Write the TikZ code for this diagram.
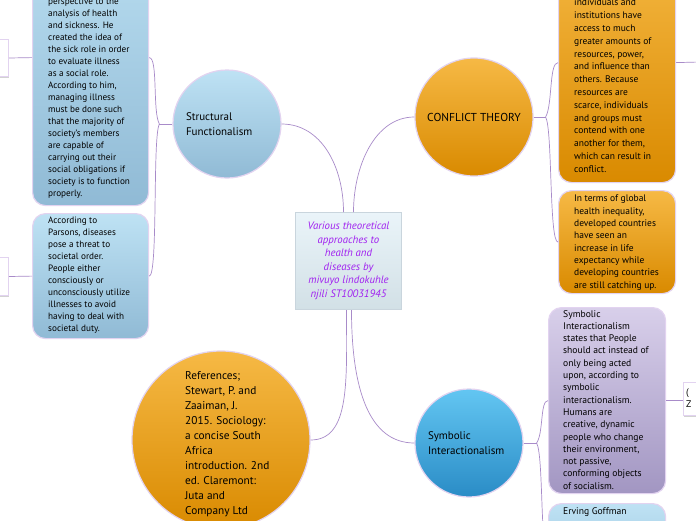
\documentclass[tikz,border=0pt]{standalone}
\usepackage{fontspec}
\setmainfont{PT Sans}
\usepackage{tikz}
\usetikzlibrary{positioning,shadows}
\definecolor{rlav}{HTML}{E2D3F0}
\definecolor{rlink}{HTML}{A88BC9}
\definecolor{bluetop}{HTML}{BEE2F4}
\definecolor{bluebot}{HTML}{90BAD5}
\definecolor{orangetop}{HTML}{F6B945}
\definecolor{orangebot}{HTML}{D98A00}
\definecolor{skytop}{HTML}{63C6F2}
\definecolor{skybot}{HTML}{2A8CC6}
\definecolor{lilactop}{HTML}{D8CFEA}
\definecolor{lilacbot}{HTML}{A296C2}
\definecolor{titletop}{HTML}{EAF4F9}
\definecolor{titlebot}{HTML}{D2E0E6}
\definecolor{titleline}{HTML}{C9D5DD}
\definecolor{titletext}{HTML}{A020F0}

\begin{document}
\begin{tikzpicture}[x=1pt,y=-1pt,
  every node/.style={font=\fontsize{9.2}{12}\selectfont},
  topic/.style={circle,draw=rlav,line width=1.2pt,inner sep=0pt,align=left},
  leaf/.style={draw=rlav,line width=1.2pt,rounded corners=13pt,inner sep=0pt,anchor=north west},
  stub/.style={draw=rlav,fill=white,line width=1pt,inner sep=0pt,anchor=north west,
    drop shadow={shadow xshift=0pt,shadow yshift=-1.5pt,opacity=0.35}},
  txt/.style={align=left,anchor=north west,inner sep=0pt},
  link/.style={draw=rlink,line width=0.7pt}]
  \fill[white] (0,0) rectangle (696,520);
  \useasboundingbox (0,0) rectangle (696,520);

  % centre
  \node[draw=titleline,line width=1pt,top color=titletop,bottom color=titlebot,
    minimum width=106pt,minimum height=97pt,inner sep=0pt,align=center,text=titletext,
    font=\fontsize{10.8}{13.5}\selectfont\itshape] (title) at (348.5,261)
    {Various theoretical\\approaches to\\health and\\diseases by\\mivuyo lindokuhle\\njili ST10031945};

  % structural functionalism
  \node[topic,top color=bluetop,bottom color=bluebot,minimum size=108pt,text width=82pt,
    font=\fontsize{11}{14.5}\selectfont] (sfc) at (227,124) {Structural\\Functionalism};
  \node[leaf,top color=bluetop,bottom color=bluebot,minimum width=116pt,minimum height=296pt] (sfone) at (32,-91) {};
  \node[txt] (sfonetext) at (48,-2) {perspective to the\\analysis of health\\and sickness. He\\created the idea of\\the sick role in order\\to evaluate illness\\as a social role.\\According to him,\\managing illness\\must be done such\\that the majority of\\society's members\\are capable of\\carrying out their\\social obligations if\\society is to function\\properly.};
  \node[leaf,top color=bluetop,bottom color=bluebot,minimum width=116pt,minimum height=125pt] (sftwo) at (32,213) {};
  \node[txt] (sftwotext) at (48,217) {According to\\Parsons, diseases\\pose a threat to\\societal order.\\People either\\consciously or\\unconsciously utilize\\illnesses to avoid\\having to deal with\\societal duty.};
  \node[stub,minimum width=40pt,minimum height=37pt] (sfstubone) at (-32,39) {};
  \node[stub,minimum width=40pt,minimum height=38pt] (sfstubtwo) at (-32,257) {};

  % conflict theory
  \node[topic,top color=orangetop,bottom color=orangebot,minimum size=118pt,align=center,
    font=\fontsize{11.5}{14}\selectfont] (ct) at (474,117) {CONFLICT THEORY};
  \node[leaf,top color=orangetop,bottom color=orangebot,minimum width=117pt,minimum height=240pt] (cfone) at (558,-58) {};
  \node[txt,font=\fontsize{9.5}{12.8}\selectfont] (cfonetext) at (574,-1) {individuals and\\institutions have\\access to much\\greater amounts of\\resources, power,\\and influence than\\others. Because\\resources are\\scarce, individuals\\and groups must\\contend with one\\another for them,\\which can result in\\conflict.};
  \node[leaf,top color=orangetop,bottom color=orangebot,minimum width=117pt,minimum height=103pt] (cftwo) at (558,190) {};
  \node[txt,font=\fontsize{9.5}{12.3}\selectfont] (cftwotext) at (574,195) {In terms of global\\health inequality,\\developed countries\\have seen an\\increase in life\\expectancy while\\developing countries\\are still catching up.};
  \coordinate (cfout) at (700,62);

  % symbolic interactionalism
  \node[topic,top color=skytop,bottom color=skybot,minimum size=108pt,text width=82pt,
    font=\fontsize{11}{14.5}\selectfont] (sic) at (469,443) {Symbolic\\Interactionalism};
  \node[leaf,top color=lilactop,bottom color=lilacbot,minimum width=117pt,minimum height=186pt] (sione) at (548,307) {};
  \node[txt,font=\fontsize{9.6}{12.3}\selectfont] (sionetext) at (563,310) {Symbolic\\Interactionalism\\states that People\\should act instead of\\only being acted\\upon, according to\\symbolic\\interactionalism.\\Humans are\\creative, dynamic\\people who change\\their environment,\\not passive,\\conforming objects\\of socialism.};
  \node[leaf,top color=bluetop,bottom color=bluebot,minimum width=117pt,minimum height=100pt] (sitwo) at (548,503) {};
  \node[txt,font=\fontsize{9.6}{12.3}\selectfont] (sitwotext) at (563,507) {Erving Goffman};
  \node[stub,minimum width=40pt,minimum height=33pt] (sistub) at (683,382) {};
  \node[txt,font=\fontsize{9.6}{12.3}\selectfont] (sistubtext) at (686,388) {(\\Z};

  % references
  \node[topic,top color=orangetop,bottom color=orangebot,minimum size=178pt] (ref) at (221,440) {};
  \node[txt,font=\fontsize{11.3}{15}\selectfont] (reftext) at (185,371) {References;\\Stewart, P. and\\Zaaiman, J.\\2015. Sociology:\\a concise South\\Africa\\introduction. 2nd\\ed. Claremont:\\Juta and\\Company Ltd};

  % links from the centre
  \draw[link] (sfc.east) .. controls +(40,0) and +(0,-45) .. ([xshift=-5pt]title.north);
  \draw[link] ([xshift=5pt]title.north) .. controls +(0,-45) and +(-40,0) .. (ct.west);
  \draw[link] ([xshift=-2pt]title.south) .. controls +(0,70) and +(40,0) .. (ref.east);
  \draw[link] ([xshift=3pt]title.south) .. controls +(0,80) and +(-45,0) .. (sic.west);

  % forks
  \draw[link] (sfc.west) -- ++(-13,0) coordinate (sffork);
  \draw[link] (sffork) .. controls +(-7,-12) and +(9,0) .. (sfone.east);
  \draw[link] (sffork) .. controls +(-7,12) and +(9,0) .. (sftwo.east);
  \draw[link] (ct.east) -- ++(12,0) coordinate (cffork);
  \draw[link] (cffork) .. controls +(7,-12) and +(-9,0) .. (cfone.west);
  \draw[link] (cffork) .. controls +(7,12) and +(-9,0) .. (cftwo.west);
  \draw[link] (sic.east) -- ++(13,0) coordinate (sifork);
  \draw[link] (sifork) .. controls +(7,-10) and +(-8,0) .. (sione.west);
  \draw[link] (sifork) .. controls +(7,12) and +(-8,0) .. (sitwo.west);

  % outer links
  \draw[link] (sfstubone.east) -- (sfone.west);
  \draw[link] (sfstubtwo.east) -- (sftwo.west);
  \draw[link] (cfone.east) -- (cfout);
  \draw[link] (sione.east) -- (sione.east -| sistub.west);
\end{tikzpicture}
\end{document}
